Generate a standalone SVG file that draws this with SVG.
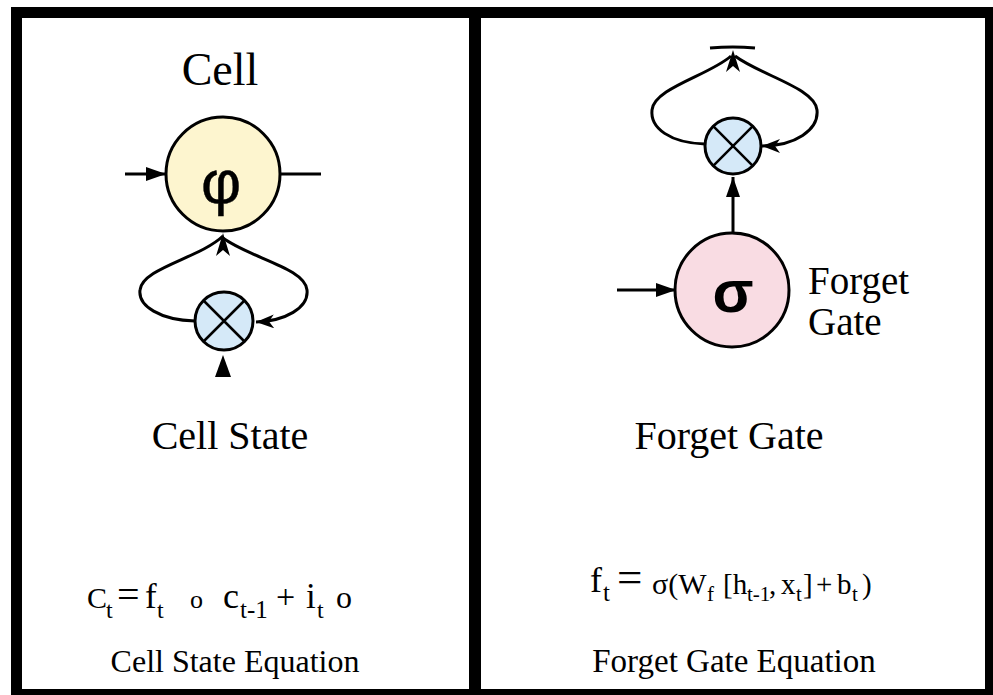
<svg xmlns="http://www.w3.org/2000/svg" width="993" height="695" viewBox="0 0 993 695">
<style>
.serif{font-family:"Liberation Serif","Times New Roman",serif;fill:#000}
.sans{font-family:"Liberation Sans",Arial,sans-serif;fill:#000}
.node{stroke:#000;stroke-width:3}
.cross{stroke:#000;stroke-width:2.5;fill:none}
.conn{stroke:#000;stroke-width:3;fill:none}
</style>
<defs>
<marker id="solid" markerUnits="userSpaceOnUse" markerWidth="22" markerHeight="16" refX="20" refY="7" orient="auto">
<path d="M0,0 L20,7 L0,14 Z" fill="#000"/>
</marker>
<marker id="barb" markerUnits="userSpaceOnUse" markerWidth="22" markerHeight="16" refX="18" refY="7" orient="auto">
<path d="M0,0 L18,7 L0,14 L5,7 Z" fill="#000"/>
</marker>
</defs>
<rect width="993" height="695" fill="#fff"/>
<g id="frame" fill="#000">
<rect x="11" y="7" width="982" height="11"/>
<rect x="11" y="7" width="11" height="688"/>
<rect x="985" y="7" width="8" height="688"/>
<rect x="11" y="689" width="982" height="6"/>
<rect x="469" y="7" width="12" height="688"/>
</g>
<g id="connectors">
<line class="conn" x1="125" y1="174" x2="166" y2="174" marker-end="url(#solid)"/>
<line class="conn" x1="280" y1="174" x2="321" y2="174"/>
<path class="conn" d="M195 321 C160 320 138 306 140 290 C142 268 200 258 223 236"/>
<path class="conn" d="M223 238 C250 258 305 268 307 290 C309 308 285 321 256 322" marker-end="url(#barb)"/>
<path d="M223 233 L216 256 L223 250 L230 256 Z" fill="#000"/>
<path d="M223 355 L215 377 L231 377 Z" fill="#000"/>
<line class="conn" x1="617" y1="290" x2="676" y2="290" marker-end="url(#solid)"/>
<line class="conn" x1="733" y1="233" x2="733" y2="177" marker-end="url(#solid)"/>
<path class="conn" d="M705 144 C670 143 650 128 652 110 C654 88 710 75 731 56"/>
<path class="conn" d="M735 56 C760 75 815 88 817 110 C819 130 795 146 762 146" marker-end="url(#barb)"/>
<path d="M733 50 L726 72 L733 66 L740 72 Z" fill="#000"/>
<path class="conn" d="M710 48 Q733 46 755 48"/>
</g>
<g id="node-cell">
<circle class="node" cx="223" cy="174" r="57" fill="#fdf5cf"/>
<text class="sans" x="221" y="203" font-size="62" text-anchor="middle" stroke="#000" stroke-width="0.4">φ</text>
</g>
<g id="node-cell-mult">
<circle class="node" cx="224" cy="321" r="29" fill="#d5e9f8"/>
<path class="cross" d="M203.5 300.5 L244.5 341.5 M244.5 300.5 L203.5 341.5"/>
</g>
<g id="node-forget-mult">
<circle class="node" cx="733" cy="146" r="28" fill="#d5e9f8"/>
<path class="cross" d="M713.2 126.2 L752.8 165.8 M752.8 126.2 L713.2 165.8"/>
</g>
<g id="node-forget">
<circle class="node" cx="732" cy="290" r="57" fill="#f9dce3"/>
<text class="sans" x="733" y="312" font-size="60" font-weight="bold" text-anchor="middle">σ</text>
</g>
<g id="labels">
<text class="serif" x="220" y="85" font-size="46" text-anchor="middle">Cell</text>
<text class="serif" x="808" y="294" font-size="39">Forget</text>
<text class="serif" x="808" y="335" font-size="39">Gate</text>
<text class="serif" x="230" y="449" font-size="40" text-anchor="middle">Cell State</text>
<text class="serif" x="729" y="449" font-size="40" text-anchor="middle">Forget Gate</text>
<text class="serif" x="235" y="672" font-size="32" text-anchor="middle">Cell State Equation</text>
<text class="serif" x="734" y="672" font-size="33" text-anchor="middle">Forget Gate Equation</text>
<text class="serif"><tspan x="87" y="608" font-size="30">C</tspan><tspan x="106" y="618" font-size="24">t</tspan><tspan x="117" y="608" font-size="40">=</tspan><tspan x="145" y="608" font-size="35">f</tspan><tspan x="157" y="618" font-size="24">t</tspan><tspan x="190" y="608" font-size="26">o</tspan><tspan x="223" y="608" font-size="36">c</tspan><tspan x="240" y="618" font-size="25">t-1</tspan><tspan x="276" y="608" font-size="34">+</tspan><tspan x="306" y="608" font-size="35">i</tspan><tspan x="317" y="618" font-size="24">t</tspan><tspan x="336" y="608" font-size="32">o</tspan></text>
<text class="serif"><tspan x="590" y="592" font-size="36">f</tspan><tspan x="603" y="601" font-size="25">t</tspan><tspan x="617" y="592" font-size="45">=</tspan><tspan x="652" y="594" font-size="30">σ(W</tspan><tspan x="707" y="601" font-size="21">f</tspan><tspan x="723" y="594" font-size="29">[h</tspan><tspan x="747" y="601" font-size="21">t-1</tspan><tspan x="769" y="594" font-size="29">,</tspan><tspan x="781" y="594" font-size="29">x</tspan><tspan x="796" y="601" font-size="21">t</tspan><tspan x="803" y="594" font-size="29">]</tspan><tspan x="816" y="594" font-size="29">+</tspan><tspan x="837" y="594" font-size="29">b</tspan><tspan x="852" y="601" font-size="21">t</tspan><tspan x="862" y="594" font-size="29">)</tspan></text>
</g>
</svg>
